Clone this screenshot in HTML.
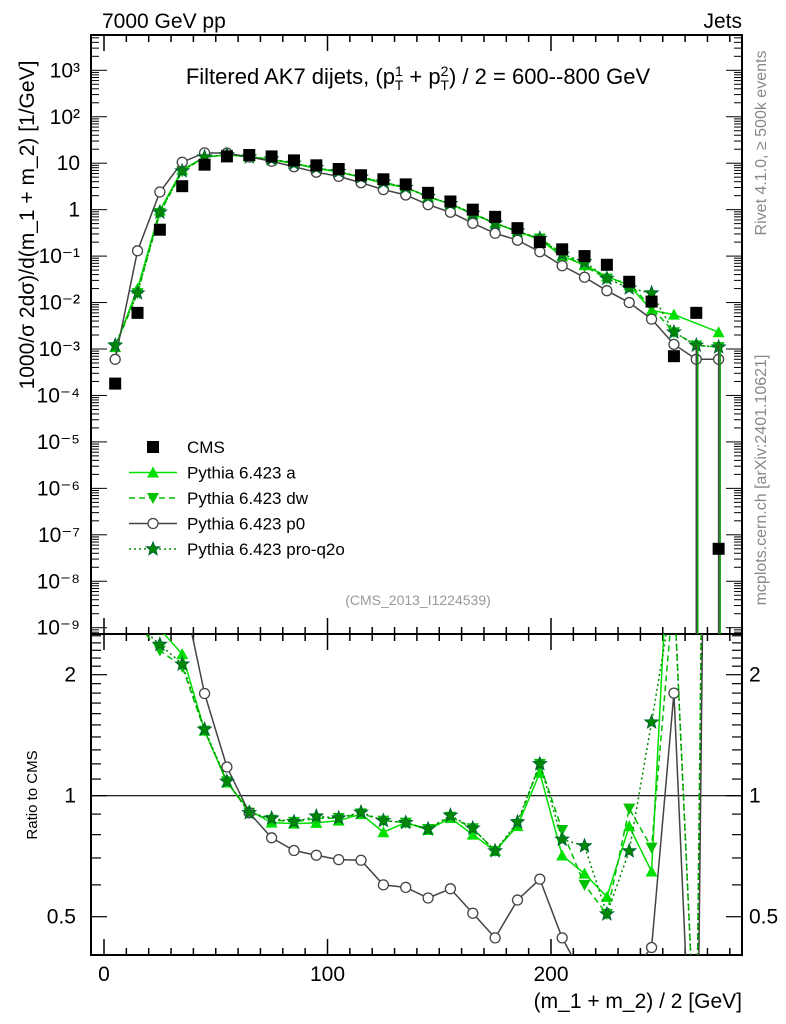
<!DOCTYPE html>
<html><head><meta charset="utf-8">
<style>
html,body{margin:0;padding:0;background:#fff;width:786px;height:1024px;overflow:hidden;}
svg{display:block;font-family:"Liberation Sans",sans-serif;}
</style></head>
<body>
<svg id="chart" width="786" height="1024" viewBox="0 0 786 1024" xmlns="http://www.w3.org/2000/svg">
<defs>
<clipPath id="clipMain"><rect x="91" y="35" width="651" height="599"/></clipPath>
<clipPath id="clipRatio"><rect x="91" y="634" width="651" height="321"/></clipPath>
</defs>
<g id="axes"></g>
<g id="marks"></g>
<text x="102" y="28" font-size="21">7000 GeV pp</text>
<text x="742" y="28" font-size="21" text-anchor="end">Jets</text>
<text x="418" y="84" font-size="22" text-anchor="middle">Filtered AK7 dijets, (p<tspan font-size="14" dy="-8">1</tspan><tspan font-size="14" dx="-8" dy="14">T</tspan><tspan dy="-6"> + p</tspan><tspan font-size="14" dy="-8">2</tspan><tspan font-size="14" dx="-8" dy="14">T</tspan><tspan dy="-6">) / 2 = 600--800 GeV</tspan></text>
<text x="418" y="605" font-size="14" fill="#999" text-anchor="middle">(CMS_2013_I1224539)</text>
<text transform="translate(766,143) rotate(-90)" font-size="16" fill="#888" text-anchor="middle">Rivet 4.1.0, ≥ 500k events</text>
<text transform="translate(766,480) rotate(-90)" font-size="16" fill="#888" text-anchor="middle">mcplots.cern.ch [arXiv:2401.10621]</text>
<text transform="translate(34,225) rotate(-90)" font-size="21" text-anchor="middle">1000/σ  2dσ)/d(m_1 + m_2) [1/GeV]</text>
<text transform="translate(37,795) rotate(-90)" font-size="15" text-anchor="middle">Ratio to CMS</text>
<text x="742" y="1008" font-size="21" text-anchor="end">(m_1 + m_2) / 2 [GeV]</text>
<g id="legend"></g>
</svg>
<script>
const binCenters=[5,15,25,35,45,55,65,75,85,95,105,115,125,135,145,155,165,175,185,195,205,215,225,235,245,255,265,275];
const cmsValues=[1.8e-4,6e-3,0.37,3.2,9.3,14,15,14,11.5,9,7.5,5.5,4.5,3.5,2.3,1.5,1.0,0.7,0.4,0.2,0.14,0.1,0.065,0.028,0.0105,7e-4,6e-3,5e-8];
const pythiaA=[0.0011,0.02,0.96,7.2,13.5,15.1,13.8,12.0,9.8,7.7,6.5,4.95,3.65,3.0,1.89,1.32,0.80,0.51,0.336,0.228,0.0994,0.064,0.0364,0.0235,0.0068,0.0055,null,0.0023];
const pythiaDW=[0.0011,0.016,0.85,6.7,13.5,15.2,13.6,12.2,9.9,7.9,6.6,4.97,3.9,3.0,1.9,1.33,0.83,0.51,0.34,0.24,0.115,0.06,0.033,0.026,0.0078,0.0023,0.0012,0.0011];
const pythiaP0=[0.0006,0.13,2.4,10.5,16.7,16.5,13.6,11.0,8.4,6.4,5.2,3.8,2.7,2.07,1.28,0.88,0.51,0.31,0.22,0.124,0.062,0.035,0.018,0.01,0.0044,0.00126,0.0006,0.0006];
const pythiaPRO=[0.0012,0.016,0.88,6.8,13.6,15.2,13.6,12.3,9.9,8.0,6.6,5.0,3.9,3.0,1.9,1.34,0.83,0.51,0.344,0.24,0.109,0.075,0.033,0.0204,0.016,0.0023,0.0012,0.0011];
const yTickLabels=["10⁻⁹","10⁻⁸","10⁻⁷","10⁻⁶","10⁻⁵","10⁻⁴","10⁻³","10⁻²","10⁻¹","1","10","10²","10³"];
const yTickPowers=[-9,-8,-7,-6,-5,-4,-3,-2,-1,0,1,2,3];
const xTickValues=[0,100,200];
const ratioTickValues=[0.5,1,2];

const NS="http://www.w3.org/2000/svg";
const axesG=document.getElementById('axes');
const marksG=document.getElementById('marks');
const legG=document.getElementById('legend');
function mk(tag,attrs,parent){const e=document.createElementNS(NS,tag);for(const k in attrs)e.setAttribute(k,attrs[k]);(parent||marksG).appendChild(e);return e;}

const L=91,R=742,T=35,M=634,B=955;
const xs=v=>104+v*2.235;
const ys=v=>70.3-(Math.log10(v)-3)*46.45;
const rs=v=>795.7-Math.log2(v)*121;

let f1=mk('rect',{x:L,y:T,width:R-L,height:M-T,fill:'none',stroke:'#000','stroke-width':2},axesG);


let f2=mk('rect',{x:L,y:M,width:R-L,height:B-M,fill:'none',stroke:'#000','stroke-width':2},axesG);



for(let v=0;v<=280;v+=10){
  const major=v%100===0, len=major?16:7, x=xs(v);
  [[T,1],[M,-1],[M,1],[B,-1]].forEach(([y0,d])=>{
    const t=mk('line',{x1:x,x2:x,y1:y0,y2:y0+d*len,stroke:'#000','stroke-width':1.5},axesG);
    
    
  });
}
xTickValues.forEach(v=>{
  const t=mk('text',{x:xs(v),y:981,'font-size':21,'text-anchor':'middle'},axesG);t.textContent=v;
  
  
});
for(let p=-10;p<=3;p++){
  for(let k=1;k<10;k++){
    const y=ys(k*Math.pow(10,p));
    if(y<T||y>M)continue;
    const len=k===1?16:8;
    [[L,1],[R,-1]].forEach(([x0,d])=>{
      const t=mk('line',{x1:x0,x2:x0+d*len,y1:y,y2:y,stroke:'#000','stroke-width':1},axesG);
      
      
    });
  }
}
yTickPowers.forEach((p,i)=>{
  const t=mk('text',{x:80,y:ys(Math.pow(10,p))+7,'font-size':21,'text-anchor':'end'},axesG);t.textContent=yTickLabels[i];
  
  
});
for(let v=0.4;v<=2.5001;v+=0.1){
  const y=rs(v);if(y<M||y>B)continue;
  const major=[0.5,1,2].some(m=>Math.abs(m-v)<1e-6);const len=major?16:10;
  [[L,1],[R,-1]].forEach(([x0,d])=>{
    const t=mk('line',{x1:x0,x2:x0+d*len,y1:y,y2:y,stroke:'#000','stroke-width':1.2},axesG);
    
    
  });
}
ratioTickValues.forEach(v=>{
  const a=mk('text',{x:76,y:rs(v)+7,'font-size':21,'text-anchor':'end'},axesG);a.textContent=v;
  
  
  const b=mk('text',{x:749,y:rs(v)+7,'font-size':21},axesG);b.textContent=v;
  
  
});
let one=mk('line',{x1:L,x2:R,y1:rs(1),y2:rs(1),stroke:'#000','stroke-width':1.2},axesG);



const mainG=mk('g',{'clip-path':'url(#clipMain)'});
const ratioG=mk('g',{'clip-path':'url(#clipRatio)'});

function marker(type,x,y,col,g){
  let e;
  if(type==='sq')e=mk('rect',{x:x-6,y:y-6,width:12,height:12,fill:'#000'},g);
  else if(type==='up')e=mk('polygon',{points:`${x},${y-6} ${x-6},${y+5} ${x+6},${y+5}`,fill:col},g);
  else if(type==='down')e=mk('polygon',{points:`${x},${y+6} ${x-6},${y-5} ${x+6},${y-5}`,fill:col},g);
  else if(type==='circ')e=mk('circle',{cx:x,cy:y,r:5,fill:'#fff',stroke:col,'stroke-width':1.3},g);
  else {let p=[];for(let i=0;i<10;i++){const r=i%2?3:7,a=-Math.PI/2+i*Math.PI/5;p.push((x+r*Math.cos(a)).toFixed(1)+','+(y+r*Math.sin(a)).toFixed(1));}
    e=mk('polygon',{points:p.join(' '),fill:col,stroke:'#063','stroke-width':1},g);}
  return e;
}
const series=[
  {name:'pythia-a',vals:pythiaA,col:'#00e000',dash:'',mk:'up'},
  {name:'pythia-dw',vals:pythiaDW,col:'#00c000',dash:'6,4',mk:'down'},
  {name:'pythia-p0',vals:pythiaP0,col:'#444',dash:'',mk:'circ'},
  {name:'pythia-pro-q2o',vals:pythiaPRO,col:'#008800',dash:'2,3',mk:'star'}
];
series.forEach(s=>{
  let pts=[],rpts=[];
  binCenters.forEach((c,i)=>{const v=s.vals[i];if(v==null)return;pts.push([xs(c),ys(v)]);rpts.push([xs(c),rs(v/cmsValues[i])]);});
  const l=mk('polyline',{points:pts.map(p=>p.join(',')).join(' '),fill:'none',stroke:s.col,'stroke-width':1.5,'stroke-dasharray':s.dash},mainG);
  
  
  const rl=mk('polyline',{points:rpts.map(p=>p.join(',')).join(' '),fill:'none',stroke:s.col,'stroke-width':1.5,'stroke-dasharray':s.dash},ratioG);
  
  
  pts.forEach(p=>{const m=marker(s.mk,p[0],p[1],s.col,mainG);
    
    });
  rpts.forEach(p=>{const m=marker(s.mk,p[0],p[1],s.col,ratioG);
    
    });
});
[[265,'#444'],[275,'#444'],[265,'#00a000'],[275,'#00a000']].forEach(([c,col],i)=>{
  const x=xs(c)+(i>1?1.5:0);
  const e=mk('line',{x1:x,x2:x,y1:ys(0.0012),y2:M,stroke:col,'stroke-width':1.5},mainG);
  
  
});
binCenters.forEach((c,i)=>{
  const m=marker('sq',xs(c),ys(cmsValues[i]),'#000',mainG);
  
  
});

const legItems=[['CMS','sq','#000',''],['Pythia 6.423 a','up','#00e000',''],['Pythia 6.423 dw','down','#00c000','6,4'],['Pythia 6.423 p0','circ','#444',''],['Pythia 6.423 pro-q2o','star','#008800','2,3']];
legItems.forEach((it,i)=>{
  const y=447+i*25.5;
  if(i>0){const l=mk('line',{x1:129,x2:177,y1:y,y2:y,stroke:it[2],'stroke-width':1.5,'stroke-dasharray':it[3]},legG);
    
    }
  const m=marker(it[1],153,y,it[2],legG);
  
  
  const t=mk('text',{x:187,y:y+6,'font-size':17},legG);t.textContent=it[0];
  
  
});
</script>
</body></html>
